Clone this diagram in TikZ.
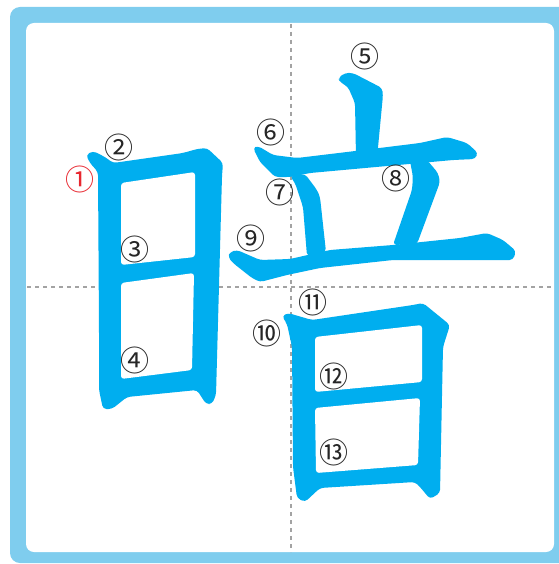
\documentclass[tikz,border=0pt]{standalone}
\usepackage{fontspec}
\newfontfamily\numfont{Noto Sans CJK SC}
\definecolor{frameblue}{HTML}{7FCDEE}
\definecolor{strokeblue}{HTML}{00AEEF}
\definecolor{dashgray}{HTML}{A3A3A3}
\definecolor{numred}{HTML}{E8272F}
\tikzset{
  stk/.style={fill=strokeblue, draw=none, rounded corners=3.5pt},
  hole/.style={fill=white, draw=none, rounded corners=3pt},
  guide/.style={draw=dashgray, line width=1.8pt, dash pattern=on 4pt off 4pt},
  num/.style={font=\numfont\fontsize{29}{29}\selectfont, inner sep=0pt, text=black!85},
}
\begin{document}
\begin{tikzpicture}[x=1pt,y=-1pt]
\useasboundingbox (0,0) rectangle (558,564);
\fill[frameblue, rounded corners=10pt] (10,7) rectangle (575,563);
\fill[white, rounded corners=8pt] (26,23) rectangle (554,552);
% guides
\coordinate (gvt) at (291,24);
\coordinate (gvb) at (291,552);
\coordinate (ghl) at (27,287);
\coordinate (ghr) at (554,287);
\draw[guide] (gvt) -- (gvb);
\draw[guide] (ghl) -- (ghr);
% left ri (strokes 1-4)
\fill[stk] (86,155) -- (93,151) -- (105,157) -- (113,163) -- (183,153) -- (197,149) -- (207,148)
  -- (223,163) -- (222,176) -- (216,395) -- (212,404) -- (206,404) -- (197,390) -- (127,397)
  -- (112,409) -- (103,409) -- (99,390) -- (99,330) -- (98,172) -- (90,163) -- cycle;
\fill[hole] (121,183) -- (195,172) -- (195,257) -- (121,265) -- cycle;
\fill[hole] (121,283) -- (194,273) -- (192,370) -- (121,379) -- cycle;
% stroke 5
\fill[stk] (338,78) -- (345,73) -- (353,73) -- (382,88) -- (383,95) -- (377,158) -- (356,158)
  -- (355,103) -- (348,87) -- (340,82) -- cycle;
% stroke 6
\fill[stk] (253,148) -- (258,146) -- (273,155) -- (297,158) -- (347,152) -- (420,143) -- (447,137)
  -- (467,143) -- (478,153) -- (475,159) -- (453,160) -- (420,163) -- (310,173) -- (290,177)
  -- (275,177) -- (260,162) -- cycle;
% stroke 7
\fill[stk] (290,176) -- (305,174) -- (317,190) -- (320,197) -- (326,252) -- (307,256)
  -- (303,207) -- (295,183) -- cycle;
% stroke 8
\fill[stk] (410,161) -- (427,160) -- (438,173) -- (440,182) -- (417,244) -- (393,245)
  -- (412,190) -- (413,177) -- cycle;
% stroke 9
\fill[stk] (230,252) -- (237,250) -- (260,260) -- (290,259) -- (330,250) -- (393,245) -- (460,238)
  -- (487,233) -- (503,240) -- (516,251) -- (513,260) -- (487,260) -- (393,260) -- (320,268)
  -- (287,275) -- (260,282) -- (252,278) -- (233,263) -- (228,257) -- cycle;
% lower ri (strokes 10-13)
\fill[stk] (282,316) -- (288,313) -- (312,320) -- (413,305) -- (423,303) -- (450,325) -- (443,347)
  -- (440,493) -- (430,499) -- (420,487) -- (415,482) -- (320,488) -- (305,502) -- (297,498)
  -- (293,467) -- (292,347) -- (287,324) -- cycle;
\fill[hole] (315,337) -- (422,325) -- (422,382) -- (315,392) -- cycle;
\fill[hole] (315,408) -- (420,398) -- (418,465) -- (316,473) -- cycle;
% labels
\node[num, text=numred] (n1) at (80,179) {①};
\node[num] (n2) at (119,147) {②};
\node[num] (n3) at (135,249) {③};
\node[num] (n4) at (135,360) {④};
\node[num] (n5) at (365,56) {⑤};
\node[num] (n6) at (271,132) {⑥};
\node[num] (n7) at (280,192) {⑦};
\node[num] (n8) at (396,178) {⑧};
\node[num] (n9) at (251,238) {⑨};
\node[num] (n10) at (267,333) {⑩};
\node[num] (n11) at (313,302) {⑪};
\node[num] (n12) at (334,376) {⑫};
\node[num] (n13) at (334,452) {⑬};
\end{tikzpicture}
\end{document}
